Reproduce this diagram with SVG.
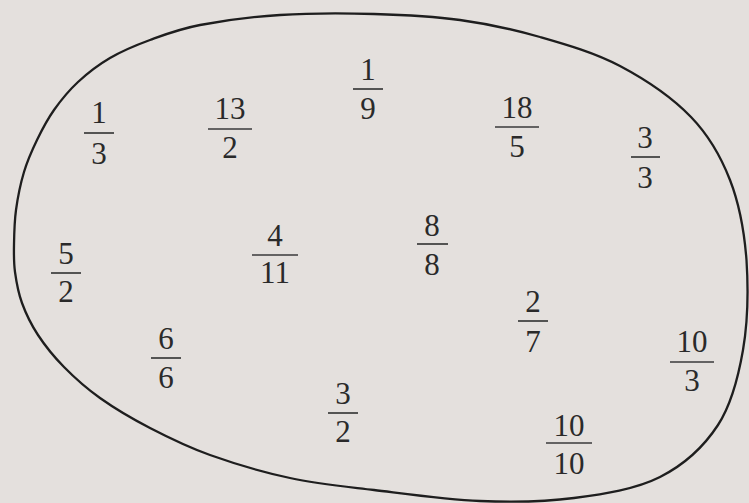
<svg xmlns="http://www.w3.org/2000/svg" width="749" height="503" viewBox="0 0 749 503">
<style>
text{font-family:"Liberation Serif","Times New Roman",serif;font-size:31px;fill:#2a2a2a;text-anchor:middle}
.bar{stroke:#3a3a3a;stroke-width:1.7}
.blob{fill:none;stroke:#1e1e1e;stroke-width:2.3}
</style>
<rect width="749" height="503" fill="#e4e0dd"/>
<g id="set">
<path class="blob" d="M14,245 C14.17,234.67 14.33,222.17 16,210 C17.67,197.83 20.5,183.67 24,172 C27.5,160.33 32,150.33 37,140 C42,129.67 47.17,119.67 54,110 C60.83,100.33 68.67,90.67 78,82 C87.33,73.33 98,65 110,58 C122,51 135,45.5 150,40 C165,34.5 178.33,29.17 200,25 C221.67,20.83 251,16.83 280,15 C309,13.17 344,13.17 374,14 C404,14.83 432.33,16.17 460,20 C487.67,23.83 513.33,29.33 540,37 C566.67,44.67 594.83,52.67 620,66 C645.17,79.33 672.67,98 691,117 C709.33,136 720.75,156.17 730,180 C739.25,203.83 744.33,231.67 746.5,260 C748.3,288.33 747.75,322.5 743,350 C738.25,377.5 731.83,403.83 718,425 C704.17,446.17 684,464.83 660,477 C636,489.17 604,494 574,498 C544,502 513.33,502.33 480,501 C446.67,499.67 405.67,493.83 374,490 C342.33,486.17 317.33,483.83 290,478 C262.67,472.17 233.33,463.33 210,455 C186.67,446.67 168.33,437.5 150,428 C131.67,418.5 114.33,408.17 100,398 C85.67,387.83 74.33,377.5 64,367 C53.67,356.5 45,345.67 38,335 C31,324.33 25.83,313.5 22,303 C18.17,292.5 16.33,281.67 15,272 C13.67,262.33 13.83,255.33 14,245 Z"/>
</g>
<g id="f1_3"><text x="99" y="123">1</text><line class="bar" x1="84" y1="133" x2="114" y2="133"/><text x="99" y="164">3</text></g>
<g id="f13_2"><text x="230" y="119">13</text><line class="bar" x1="208" y1="129" x2="252" y2="129"/><text x="230" y="158">2</text></g>
<g id="f1_9"><text x="368" y="80">1</text><line class="bar" x1="353" y1="89" x2="383" y2="89"/><text x="368" y="119">9</text></g>
<g id="f18_5"><text x="517" y="118">18</text><line class="bar" x1="495" y1="127" x2="539" y2="127"/><text x="517" y="157">5</text></g>
<g id="f3_3"><text x="645" y="148">3</text><line class="bar" x1="631" y1="157" x2="660" y2="157"/><text x="645" y="188">3</text></g>
<g id="f5_2"><text x="66" y="264">5</text><line class="bar" x1="51" y1="273" x2="81" y2="273"/><text x="66" y="302">2</text></g>
<g id="f4_11"><text x="275" y="246">4</text><line class="bar" x1="252" y1="255" x2="298" y2="255"/><text x="275" y="283">11</text></g>
<g id="f8_8"><text x="432" y="236">8</text><line class="bar" x1="417" y1="244" x2="448" y2="244"/><text x="432" y="275">8</text></g>
<g id="f2_7"><text x="533" y="312">2</text><line class="bar" x1="518" y1="321" x2="548" y2="321"/><text x="533" y="352">7</text></g>
<g id="f6_6"><text x="166" y="349">6</text><line class="bar" x1="151" y1="358" x2="181" y2="358"/><text x="166" y="388">6</text></g>
<g id="f10_3"><text x="692" y="352">10</text><line class="bar" x1="670" y1="362" x2="714" y2="362"/><text x="692" y="391">3</text></g>
<g id="f3_2"><text x="343" y="404">3</text><line class="bar" x1="328" y1="413" x2="358" y2="413"/><text x="343" y="442">2</text></g>
<g id="f10_10"><text x="569" y="436">10</text><line class="bar" x1="546" y1="443" x2="592" y2="443"/><text x="569" y="474">10</text></g>
</svg>
